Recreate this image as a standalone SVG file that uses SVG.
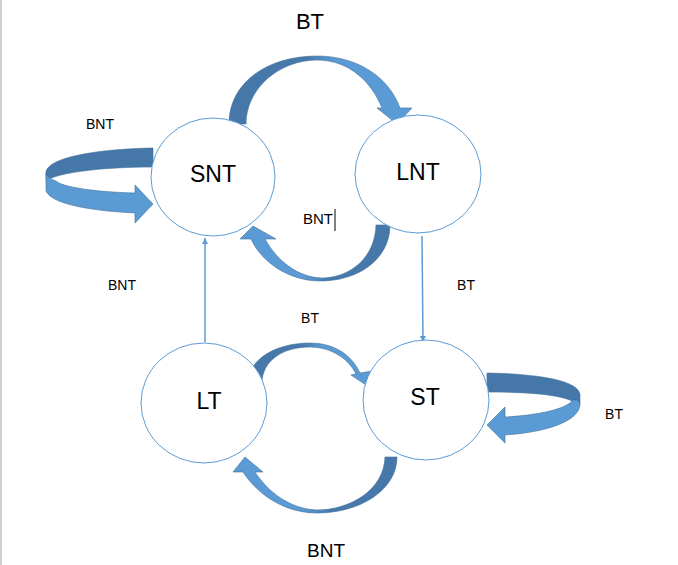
<svg xmlns="http://www.w3.org/2000/svg" width="678" height="565" viewBox="0 0 678 565">
<defs>
<linearGradient id="gTop" x1="229" y1="0" x2="412" y2="0" gradientUnits="userSpaceOnUse">
<stop offset="0" stop-color="#4577A8"/><stop offset="0.42" stop-color="#4879AC"/><stop offset="0.58" stop-color="#5B9BD5"/><stop offset="1" stop-color="#5B9BD5"/>
</linearGradient>
<linearGradient id="gMid" x1="240" y1="0" x2="390" y2="0" gradientUnits="userSpaceOnUse">
<stop offset="0" stop-color="#5B9BD5"/><stop offset="0.42" stop-color="#5B9BD5"/><stop offset="0.6" stop-color="#4879AC"/><stop offset="1" stop-color="#4577A8"/>
</linearGradient>
<linearGradient id="gLow" x1="248" y1="0" x2="373" y2="0" gradientUnits="userSpaceOnUse">
<stop offset="0" stop-color="#4577A8"/><stop offset="0.42" stop-color="#4879AC"/><stop offset="0.6" stop-color="#5B9BD5"/><stop offset="1" stop-color="#5B9BD5"/>
</linearGradient>
<linearGradient id="gBot" x1="233" y1="0" x2="397" y2="0" gradientUnits="userSpaceOnUse">
<stop offset="0" stop-color="#5B9BD5"/><stop offset="0.42" stop-color="#5B9BD5"/><stop offset="0.6" stop-color="#4879AC"/><stop offset="1" stop-color="#4577A8"/>
</linearGradient>
<marker id="ah" viewBox="0 0 10 10" refX="10" refY="5" markerWidth="6" markerHeight="6" orient="auto" markerUnits="userSpaceOnUse">
<path d="M0,0 L10,5 L0,10 Z" fill="#5B9BD5"/>
</marker>
</defs>
<style>
.node{fill:#FFFFFF;stroke:#5B9BD5;stroke-width:1}
.big{font-family:"Liberation Sans",Arial,sans-serif;font-size:23px;fill:#000;text-anchor:middle}
.lbl{font-family:"Liberation Sans",Arial,sans-serif;font-size:14px;fill:#000;text-anchor:middle}
.blk{stroke:#41719C;stroke-width:0.6}
.dark{fill:#4577A8}
.light{fill:#5B9BD5}
.thin{stroke:#5B9BD5;stroke-width:1.5;fill:none}
</style>
<rect x="0" y="0" width="678" height="565" fill="#FFFFFF"/>
<line x1="1" y1="0" x2="1" y2="565" stroke="#C0C0C0" stroke-width="1.5"/>

<g id="connectors">
<path class="blk" fill="url(#gTop)" d="M229,124 C229,82 268,56 317,56 C355,56 388,75 400,108 L412,108 L397,124 L377,108 L382,108 C372,83 350,60 317,60 C280,60 246,88 246,124 Z"/>
<path class="blk" fill="url(#gMid)" d="M390,225 C390,258 360,281 320,281 C290,281 262,263 251,239 L240,239 L253,226 L276,239 L265,239 C277,261 298,277 321,278 C350,278 375,258 376,225 Z"/>
<path class="blk dark" d="M153,148 C95,149 46,158 46,173 L46,181 C58,172 105,167 153,167 Z"/>
<path class="blk light" d="M46,173 L46,191 C52,205 95,211 135,213 L135,223 L153,204 L135,185 L135,193 C95,192 62,187 56,181 C50,179 46,176 46,173 Z"/>
<path class="blk dark" d="M487,373 C545,374 580,382 580,395 L580,404 C578,400 575,399 572,401 C560,395 530,392 487,392 Z"/>
<path class="blk light" d="M580,404 C580,420 550,432 505,435 L505,443 L487,425 L505,407 L505,417 C540,415 565,409 572,401 C575,399 578,400 580,404 Z"/>
<path class="blk" fill="url(#gLow)" d="M248,383 C248,360 275,343 310,343 C334,343 352,355 360,373 L372,371 L366,385 L351,375 L356,374 C349,359 331,347 310,347 C281,347 262,362 262,383 Z"/>
<path class="blk" fill="url(#gBot)" d="M397,457 C397,490 360,513 317,513 C285,513 258,495 243,472 L233,472 L245,457 L263,472 L255,472 C268,492 290,509 317,510 C350,510 384,490 385,457 Z"/>
<line class="thin" x1="205" y1="342" x2="205" y2="238" marker-end="url(#ah)"/>
<line class="thin" x1="422" y1="236" x2="423" y2="342" marker-end="url(#ah)"/>
</g>

<g id="SNT"><ellipse class="node" cx="213" cy="177" rx="62" ry="59"/><text class="big" x="213" y="182">SNT</text></g>
<g id="LNT"><ellipse class="node" cx="418" cy="174" rx="63" ry="59"/><text class="big" x="418" y="180">LNT</text></g>
<g id="LT"><ellipse class="node" cx="204" cy="403" rx="63" ry="60"/><text class="big" x="209" y="409">LT</text></g>
<g id="ST"><ellipse class="node" cx="426" cy="400" rx="63" ry="60"/><text class="big" x="425" y="405">ST</text></g>

<g id="labels">
<text class="big" x="310" y="29" style="font-size:22px">BT</text>
<text class="lbl" x="100" y="129">BNT</text>
<text class="lbl" x="318" y="224" style="font-size:15px">BNT</text>
<line x1="335" y1="209" x2="335" y2="231" stroke="#000" stroke-width="1"/>
<text class="lbl" x="122" y="290">BNT</text>
<text class="lbl" x="466" y="290">BT</text>
<text class="lbl" x="310" y="323">BT</text>
<text class="lbl" x="614" y="419">BT</text>
<text class="lbl" x="326" y="557" style="font-size:19px">BNT</text>
</g>
</svg>
